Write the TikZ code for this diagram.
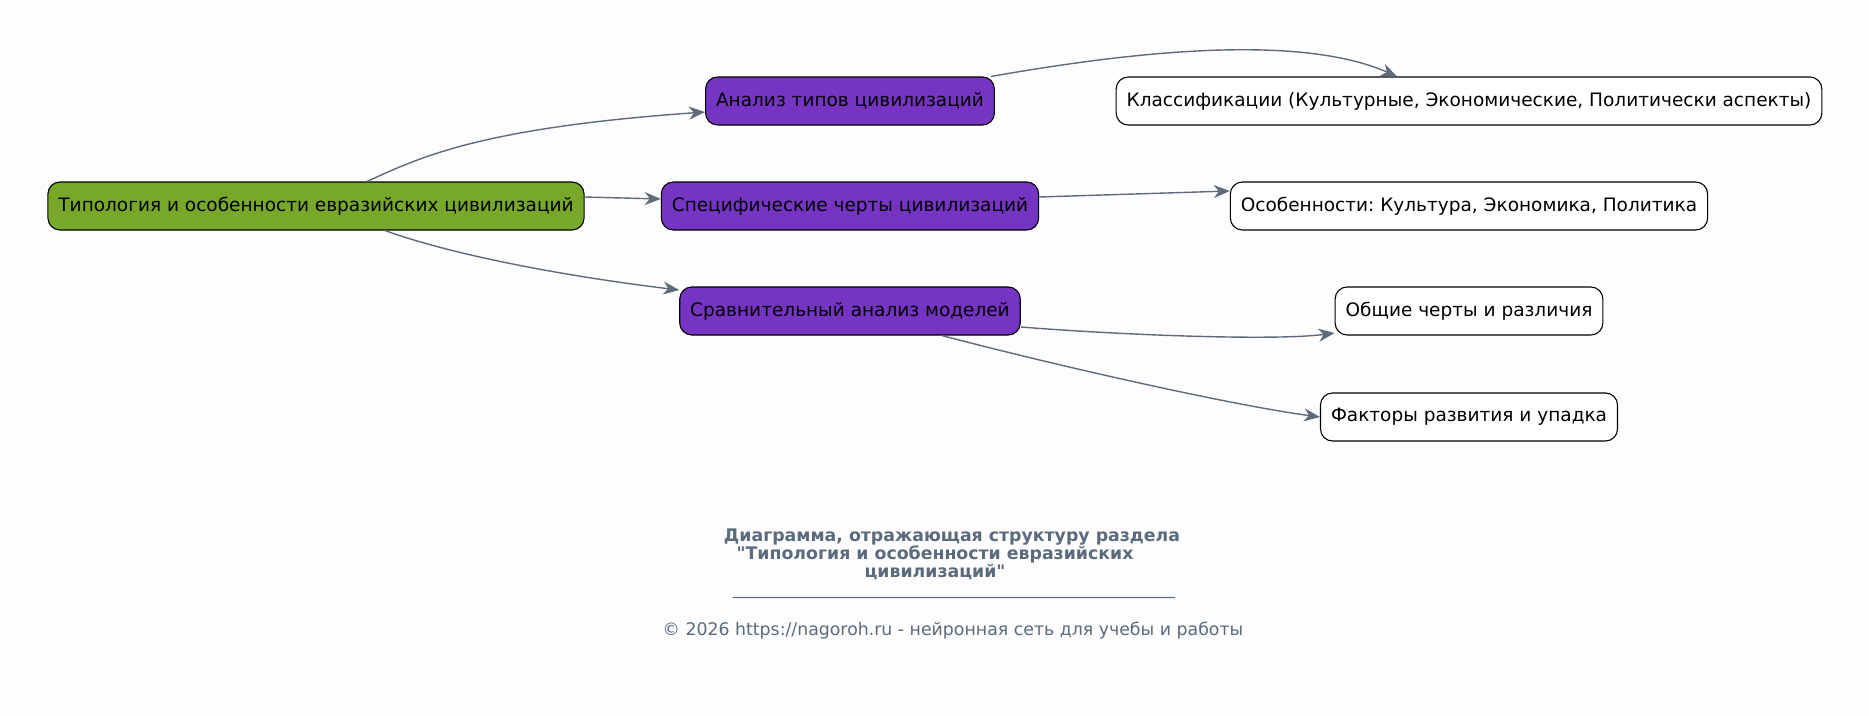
\documentclass[tikz,border=0pt]{standalone}
\usepackage{fontspec}
\setmainfont{DejaVu Sans}
\usetikzlibrary{arrows.meta}
\frenchspacing

\definecolor{rootgreen}{HTML}{78A829}
\definecolor{topicviolet}{HTML}{7535C2}
\definecolor{edgegray}{HTML}{5F6B7A}
\definecolor{notegray}{HTML}{5A6B7D}
\definecolor{paper}{HTML}{FDFDFD}

\tikzset{
  box/.style={draw, rounded corners=12pt, line width=1.1pt, minimum height=48pt,
    inner xsep=10.5pt, text=black, font=\fontsize{18.5}{22}\selectfont},
  rootbox/.style={box, fill=rootgreen},
  topicbox/.style={box, fill=topicviolet},
  leafbox/.style={box, fill=white},
  link/.style={draw=edgegray, line width=1.4pt, -{Stealth[length=16pt,width=13pt,inset=5pt]}},
  note/.style={text=notegray, font=\fontsize{17.33}{18}\selectfont}
}

\begin{document}
\begin{tikzpicture}[x=1pt,y=-1pt]
\fill[paper] (0,0) rectangle (1869,715);
% nodes
\node[rootbox] (T0) at (316,206) {Типология и особенности евразийских цивилизаций};
\node[topicbox] (T1) at (850,101) {Анализ типов цивилизаций};
\node[topicbox] (T2) at (850,206) {Специфические черты цивилизаций};
\node[topicbox] (T3) at (850,311) {Сравнительный анализ моделей};
\node[leafbox] (L1) at (1469,101) {Классификации (Культурные, Экономические, Политически аспекты)};
\node[leafbox] (L2) at (1469,206) {Особенности: Культура, Экономика, Политика};
\node[leafbox] (L3) at (1469,311) {Общие черты и различия};
\node[leafbox] (L4) at (1469,417) {Факторы развития и упадка};
% edges
\draw[link] ([xshift=51pt]T0.north) .. controls +(53,-24) and +(-226,16) .. ([yshift=-11pt]T1.west);
\draw[link] ([yshift=9pt]T0.east) -- ([yshift=7pt]T2.west);
\draw[link] ([xshift=69pt]T0.south) .. controls +(75,27) and +(-100,-12) .. ([yshift=21pt]T3.west);
\draw[link] ([xshift=-4pt]T1.north east) .. controls +(109,-19) and +(-107,-47) .. ([xshift=-72pt]L1.north);
\draw[link] ([yshift=9pt]T2.east) -- ([yshift=15pt]L2.west);
\draw[link] ([yshift=-16pt]T3.east) .. controls +(100,8) and +(-60,8) .. ([yshift=-22pt]L3.west);
\draw[link] ([xshift=92pt]T3.south) .. controls +(110,29) and +(-90,-12) .. (L4.west);
% caption
\node[note, font=\fontsize{17.33}{18}\selectfont\bfseries, align=center] (cap) at (952,554)
  {Диаграмма, отражающая структуру раздела\\
   \textquotedbl Типология и особенности евразийских\kern34pt\\
   цивилизаций\textquotedbl\kern34pt};
\node[note, anchor=base] (bar) at (954,594)
  {\_\_\_\_\_\_\_\_\_\_\_\_\_\_\_\_\_\_\_\_\_\_\_\_\_\_\_\_\_\_\_\_\_\_\_\_\_\_\_\_\_\_\_\_\_\_\_\_\_\_\_};
\node[note] (copy) at (953,631) {© 2026 https://nagoroh.ru - нейронная сеть для учебы и работы};
\end{tikzpicture}
\end{document}
